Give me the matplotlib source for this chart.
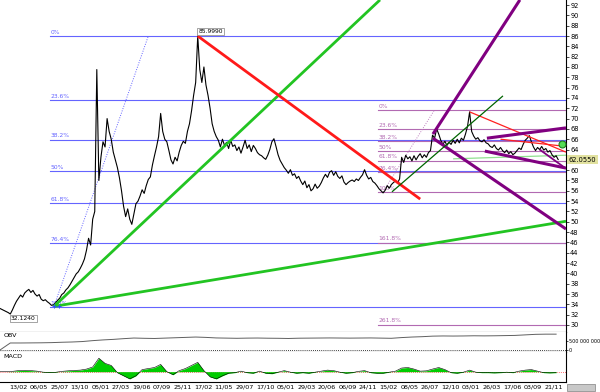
import numpy as np
import matplotlib
matplotlib.use("Agg")
import matplotlib.pyplot as plt
from matplotlib.patches import Rectangle

# ---- data ----
price = [
    33.2, 33.0, 32.8, 32.6, 32.4, 32.124, 32.9, 33.8, 34.6, 35.2,
    35.8, 35.4, 36.2, 36.6, 36.9, 36.3, 36.7, 36.0, 35.6, 35.9,
    35.0, 34.7, 34.9, 34.5, 34.2, 33.8, 33.9, 34.3, 34.8, 35.2,
    35.9, 36.2, 36.8, 37.2, 37.8, 38.5, 39.2, 39.9, 40.3, 41.0,
    41.8, 42.8, 44.5, 46.8, 45.5, 50.5, 52.0, 79.5, 58.0, 62.5,
    65.5, 64.5, 70.0, 67.5, 66.0, 63.5, 62.0, 60.5, 58.5, 56.0,
    53.0, 51.0, 52.5, 50.5, 49.5, 51.5, 53.5, 54.0, 55.0, 56.2,
    55.5, 57.0, 58.2, 58.7, 61.0, 62.8, 64.5, 66.5, 71.0, 67.5,
    66.0, 65.5, 63.8, 62.0, 61.2, 62.5, 61.8, 63.5, 64.8, 65.6,
    65.2, 67.5, 69.0, 71.5, 74.5, 77.0, 85.999, 79.5, 77.0, 80.0,
    76.5, 74.5, 72.0, 69.0, 67.5, 66.5, 65.8, 64.5, 66.0, 64.8,
    65.4, 64.2, 65.8, 64.6, 64.9, 63.8, 64.5, 63.3, 64.5, 65.8,
    64.2, 64.9, 63.6, 64.8, 64.2, 63.4, 63.0, 62.8, 62.4, 62.1,
    62.9, 64.0, 65.5, 66.1, 64.6, 63.0, 61.9, 61.2, 60.5, 60.0,
    59.4, 60.1, 59.0, 59.3, 58.4, 58.8, 57.9, 57.2, 57.9, 56.6,
    57.2, 56.0, 56.4, 57.3, 56.5, 56.9, 57.6, 58.5, 59.2, 58.6,
    59.6, 59.9, 59.0, 59.7, 58.8, 58.4, 58.9, 57.7, 57.2, 57.6,
    57.9, 58.1, 57.8, 58.3, 58.0, 58.6, 59.1, 60.1, 59.0, 58.3,
    58.6, 57.8, 57.5, 57.0, 56.4, 56.0, 55.6, 56.1, 57.0, 56.5,
    57.2, 57.6, 57.9, 57.5, 58.3, 62.5, 61.5, 62.9, 62.2, 62.6,
    61.8, 62.8, 62.0, 62.7, 63.2, 62.4, 63.0, 62.5, 63.4, 63.8,
    66.8, 66.2, 68.0, 67.0, 65.8, 65.0, 65.6, 64.8, 65.4, 65.0,
    65.8, 65.2, 66.0, 65.3, 66.2, 65.8, 67.0, 68.5, 71.3, 67.5,
    66.6, 66.0, 66.3, 65.7, 65.5, 65.9, 65.3, 65.1, 64.6, 64.4,
    64.9, 64.2, 63.9, 64.4, 63.8, 63.4, 63.9, 63.2, 63.6, 63.0,
    63.3, 63.8, 64.3, 64.0, 65.0, 65.8, 66.2, 66.7, 65.5, 64.5,
    63.8, 64.4, 64.0, 64.6, 63.9, 64.2, 63.5, 63.8, 63.0, 62.5,
    62.8, 62.055,
]

obv_step = 5  # one OBV value every 5 bars (millions)
obv = [
    0, 390, 390, 395, 400, 410, 430, 445, 470, 520,
    560, 590, 630, 665, 650, 640, 660, 680, 700, 720,
    700, 670, 660, 650, 660, 665, 655, 650, 640, 655,
    660, 665, 670, 665, 660, 665, 670, 660, 650, 690,
    720, 740, 770, 780, 775, 780, 790, 785, 790, 800,
    810, 840, 870, 880, 880,
]

macd_step = 3  # one histogram value every 3 bars
macd_hist = [
    0, 0, 0.3, 1.0, 1.2, 1.0, 0.5, -0.5, -0.8, -0.6,
    0.3, 0.8, 1.2, 1.5, 2.5, 4.5, 13, 8, 6, -1,
    -4, -7, -4, 2, 3, 4, 7, 0, -3, 1,
    3, 6, 9, 1, -5, -7, -4, -1.5, -1, 0.5,
    -1, -1.5, 0.5, -1.5, -2, -0.5, 1, -0.5, -1.5, -1,
    -1.5, -0.5, 0.5, 1.5, 1, -0.5, -1.5, -1, 0.3, 1,
    -1, -1.5, -1.5, -0.5, 0.5, 3.5, 4, 2.5, 0.5, 0.8,
    2.5, 4, 2, -1, -1.5, -0.5, 1.5, -0.5, -1, -1,
    -1.2, -1, -0.5, -1, 0.5, 1.5, 2, 0.5, -1, -1.2,
    -1,
]

date_labels = ["13/02", "06/05", "25/07", "13/10", "05/01", "27/03", "19/06",
               "07/09", "25/11", "17/02", "11/05", "29/07", "17/10", "05/01",
               "29/03", "20/06", "06/09", "24/11", "15/02", "08/05", "26/07",
               "12/10", "03/01", "26/03", "17/06", "03/09", "21/11"]
first_label_bar = 8.7
bars_per_label = 10

# fibonacci tools: (start bar, high, low, levels)
blue_fib_start = 24.3
blue_fib_high, blue_fib_low = 86.0, 33.5
blue_fib_pct = [0, 23.6, 38.2, 50, 61.8, 76.4, 100]
purple_fib_start = 183.5
purple_fib_high, purple_fib_low = 71.7, 55.8
purple_fib_pct = [0, 23.6, 38.2, 50, 61.8, 76.4, 100, 161.8, 261.8]

# trend lines: ((bar, price), (bar, price))
thick_green = [((26.2, 33.6), (184.5, 93.0)), ((26.2, 33.6), (274.8, 50.1))]
thick_red = [((96, 86.0), (204, 54.4))]
thin_red = [((228, 71.3), (274.8, 63.5)), ((243, 66.0), (274.8, 64.6))]
thick_purple = [((210.2, 67.0), (252.4, 93.0)), ((210.2, 66.2), (274.8, 48.6)),
                ((236.4, 66.2), (274.8, 68.2)), ((235.4, 63.7), (274.8, 60.4))]
thin_purple = [((262, 64.0), (274.8, 60.3))]
dark_green = [((190.3, 55.8), (244.2, 74.4))]
light_green = [((220, 62.2), (274.8, 62.9))]
blue_diag = [((26.2, 33.6), (72, 86.0))]
purple_diag = [((186, 55.8), (211, 71.7))]
green_dot = (272.8, 65.1)

W, H = 600, 392
fig = plt.figure(figsize=(W / 100, H / 100), dpi=100)
x_right = 566 / W
ax = fig.add_axes([0, 1 - 332 / H, x_right, 332 / H])
ax_obv = fig.add_axes([0, 1 - 352 / H, x_right, 20 / H], sharex=ax)
ax_macd = fig.add_axes([0, 1 - 382 / H, x_right, 30 / H], sharex=ax)

for a in (ax, ax_obv, ax_macd):
    a.spines["top"].set_visible(False)
    a.spines["left"].set_visible(False)
    a.spines["right"].set_linewidth(0.8)
    a.spines["bottom"].set_linewidth(0.8)
    a.yaxis.tick_right()
    a.tick_params(axis="y", labelsize=4.8, length=2, width=0.5, pad=1)
    a.tick_params(axis="x", length=0)

x_max = 274.8
ax.set_xlim(0, x_max)
ax.set_ylim(28.64, 92.98)
ax.set_yticks(list(range(30, 93, 2)))
ax.tick_params(axis="x", labelbottom=False)

# fib levels
def fib(start, hi, lo, pcts, color, z):
    for p in pcts:
        lvl = hi - p / 100 * (hi - lo)
        ax.plot([start, x_max], [lvl, lvl], color=color, lw=0.8, zorder=z)
        lab = "0%" if p == 0 else f"{p:g}%"
        ax.text(start + 0.3, lvl + 0.25, lab, color=color, fontsize=4.3,
                ha="left", va="bottom", zorder=z)

fib(blue_fib_start, blue_fib_high, blue_fib_low, blue_fib_pct, "#6464ff", 1)
fib(purple_fib_start, purple_fib_high, purple_fib_low, purple_fib_pct, "#b26ab2", 1)

def draw(lines, **kw):
    for (x0, y0), (x1, y1) in lines:
        ax.plot([x0, x1], [y0, y1], solid_capstyle="butt", **kw)

draw(blue_diag, color="#6464ff", lw=0.7, ls=(0, (1, 1.5)), zorder=2)
draw(purple_diag, color="#c080c0", lw=0.7, ls=(0, (1, 1.5)), zorder=2)
draw(light_green, color="#90e090", lw=0.9, zorder=2)

# price
bars = np.arange(len(price))
ax.plot(bars, price, color="black", lw=0.8, zorder=3)

draw(thick_green, color="#22c422", lw=2.0, zorder=4)
draw(thick_red, color="#ff1a1a", lw=2.0, zorder=4)
draw(thin_red, color="#ff2020", lw=0.9, zorder=4)
draw(thick_purple, color="#800080", lw=2.2, zorder=4)
draw(thin_purple, color="#800080", lw=1.3, zorder=4)
draw(dark_green, color="#006400", lw=0.9, zorder=4)
ax.plot(*green_dot, "o", ms=5, mfc="#55dd55", mec="#208020", mew=0.8, zorder=5)
ax.plot([26.2, 28.5], [33.6, 33.6], "+", color="#3050ff", ms=3, mew=0.7, zorder=5)

# swing high / low labels
box = dict(fc="white", ec="gray", lw=0.5, pad=0.8)
ax.text(96.4, 86.4, "85.9990", fontsize=4.3, ha="left", va="bottom", bbox=box, zorder=6)
ax.text(5.3, 31.7, "32.1240", fontsize=4.3, ha="left", va="top", bbox=box, zorder=6)

# last price flag, drawn over the 62 tick label like the reference
ax.set_yticklabels(["" if t == 62 else str(t) for t in range(30, 93, 2)])
ax.text(1.004, price[-1], f"{price[-1]:.4f}", transform=ax.get_yaxis_transform(),
        fontsize=4.8, ha="left", va="center", clip_on=False,
        bbox=dict(fc="#e2e2a0", ec="none", pad=1.2))

# OBV
obv_bars = np.arange(len(obv)) * obv_step
ax_obv.plot(obv_bars, obv, color="#606060", lw=0.7)
ax_obv.axhline(0, color="black", lw=0.6, ls=(0, (1, 1.5)))
ax_obv.set_ylim(-111, 1000)
ax_obv.set_yticks([0, 500])
ax_obv.set_yticklabels(["0", "500 000 000"])
ax_obv.tick_params(axis="y", labelsize=3.5, length=1.5, pad=0.5)
ax_obv.tick_params(axis="x", labelbottom=False)
ax_obv.text(0.006, 0.93, "OBV", transform=ax_obv.transAxes, fontsize=4.6,
            ha="left", va="top")

# MACD
macd_bars = np.arange(len(macd_hist)) * macd_step
hist = np.array(macd_hist)
ax_macd.fill_between(macd_bars, 0, hist, color="#00cc00", lw=0)
ax_macd.plot(macd_bars, hist, color="black", lw=0.4)
ax_macd.axhline(0, color="#ff4040", lw=0.6, ls=(0, (1, 1.5)), zorder=0)
ax_macd.set_ylim(-10, 19)
ax_macd.set_yticks([])
ax_macd.text(0.006, 0.95, "MACD", transform=ax_macd.transAxes, fontsize=4.6,
             ha="left", va="top")
ax_macd.set_xticks(first_label_bar + bars_per_label * np.arange(len(date_labels)))
ax_macd.set_xticklabels(date_labels)
ax_macd.tick_params(axis="x", labelsize=4.6, length=0, pad=1.5, labelbottom=True)
ax_macd.set_xlim(0, x_max)

# scrollbar stub bottom right
fig.add_artist(Rectangle((567 / W, 1 - 391 / H), 28 / W, 7 / H,
                         transform=fig.transFigure, fc="#c8c8c8", ec="#808080", lw=0.5))

fig.savefig("out.png", dpi=100)
